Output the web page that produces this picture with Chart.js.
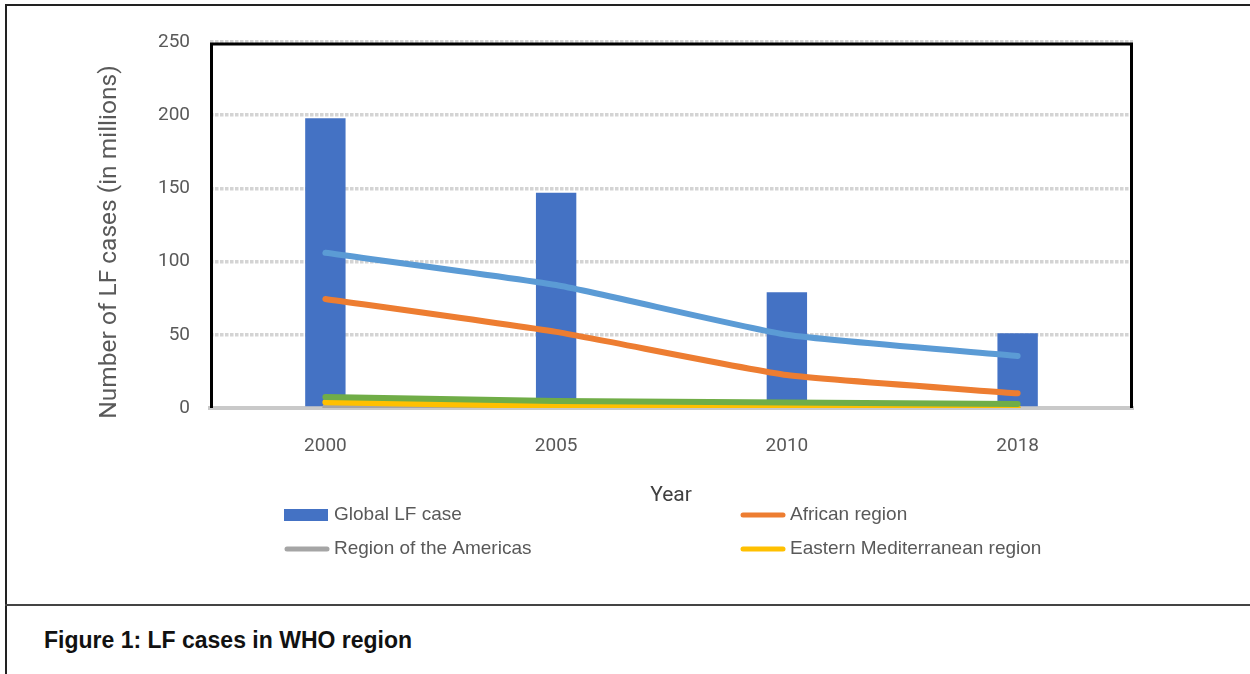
<!DOCTYPE html>
<html>
<head>
<meta charset="utf-8">
<script src="https://cdn.jsdelivr.net/npm/chart.js@4"></script>
<style>
  html, body { margin: 0; padding: 0; background: #fff; }
  #wrap { position: relative; width: 1250px; height: 674px; overflow: hidden; }
  #frameLeft { position: absolute; left: 5px; top: 4px; width: 2px; height: 670px; background: #222; }
  #frameTop { position: absolute; left: 5px; top: 4px; width: 1245px; height: 2px; background: #222; }
  #divider { position: absolute; left: 5px; top: 604px; width: 1245px; height: 2px; background: #444; }
  #caption { position: absolute; left: 44px; top: 627px; font: bold 23px "Liberation Sans", Arial, sans-serif; color: #111; }
  #chartBox { position: absolute; left: 0; top: 0; width: 1250px; height: 600px; }
</style>
</head>
<body>
<div id="wrap">
  <div id="chartBox"><canvas id="lfChart" width="1250" height="600"></canvas></div>
  <div id="frameLeft"></div>
  <div id="frameTop"></div>
  <div id="divider"></div>
  <div id="caption">Figure 1: LF cases in WHO region</div>
</div>
<script>
// data (millions of people)
const years = ["2000", "2005", "2010", "2018"];
const globalCases = [198, 147, 79, 51];
const africa = [74.5, 52, 22.5, 10];
const americas = [0.5, 0.3, 0.2, 0.1];
const eastMed = [4, 1.4, 0.7, 0.3];
const seAsia = [106, 84, 50, 35.5];
const westPacific = [7.5, 4.8, 3.8, 2.7];
const yTicks = [0, 50, 100, 150, 200, 250];

const TICK_FONT = { family: "Roboto, 'Liberation Sans', sans-serif", size: 19 };
const GREY_TXT = "#595959";

const lineDs = (label, data, color, order) => ({
  type: "line",
  label,
  data,
  borderColor: color,
  backgroundColor: color,
  borderWidth: 6,
  borderCapStyle: "round",
  borderJoinStyle: "round",
  tension: 0.15,
  pointRadius: 0,
  order,
});

// frame, axis titles and the two-column legend
const extras = {
  id: "extras",
  beforeDatasetsDraw(chart) {
    const { ctx, chartArea: a } = chart;
    ctx.save();
    ctx.strokeStyle = "#000";
    ctx.lineWidth = 3;
    ctx.beginPath();
    ctx.moveTo(a.left + 1.5, a.bottom);
    ctx.lineTo(a.left + 1.5, a.top + 2);
    ctx.lineTo(a.right - 1.5, a.top + 2);
    ctx.lineTo(a.right - 1.5, a.bottom);
    ctx.stroke();
    ctx.restore();
  },
  afterDraw(chart) {
    const { ctx } = chart;
    ctx.save();
    // y title
    ctx.fillStyle = GREY_TXT;
    ctx.font = "24.5px Roboto, 'Liberation Sans', sans-serif";
    ctx.textAlign = "center";
    ctx.textBaseline = "middle";
    ctx.translate(110, 242);
    ctx.rotate(-Math.PI / 2);
    ctx.fillText("Number of LF cases (in millions)", 0, 0);
    ctx.setTransform(1, 0, 0, 1, 0, 0);
    // x title
    ctx.fillStyle = "#404040";
    ctx.font = "21px Roboto, 'Liberation Sans', sans-serif";
    ctx.fillText("Year", 671, 496);

    // legend (only the first four series, as in the source)
    const items = chart.data.datasets.filter(d => d.inLegend);
    const cols = [284, 740];
    const rows = [515, 549];
    ctx.font = "19px 'Liberation Sans Narrow', 'Liberation Sans', sans-serif";
    ctx.textAlign = "left";
    items.forEach((d, i) => {
      const x = cols[i % 2];
      const y = rows[Math.floor(i / 2)];
      if (d.type === "bar") {
        ctx.fillStyle = d.backgroundColor;
        ctx.fillRect(x, y - 6, 44, 12);
      } else {
        ctx.strokeStyle = d.borderColor;
        ctx.lineWidth = 5;
        ctx.lineCap = "round";
        ctx.beginPath();
        ctx.moveTo(x + 3, y);
        ctx.lineTo(x + 43, y);
        ctx.stroke();
      }
      ctx.fillStyle = GREY_TXT;
      ctx.fillText(d.label, x + 50, y);
    });
    ctx.restore();
  },
};

new Chart(document.getElementById("lfChart"), {
  data: {
    labels: years,
    datasets: [
      { type: "bar", label: "Global LF case", data: globalCases, backgroundColor: "#4472c4",
        barPercentage: 0.7, categoryPercentage: 0.25, order: 10, inLegend: true },
      { ...lineDs("African region", africa, "#ed7d31", 5), inLegend: true },
      { ...lineDs("Region of the Americas", americas, "#a5a5a5", 4), inLegend: true },
      { ...lineDs("Eastern Mediterranean region", eastMed, "#ffc000", 3), inLegend: true },
      lineDs("South-East Asia region", seAsia, "#5b9bd5", 2),
      lineDs("Western Pacific region", westPacific, "#70ad47", 1),
    ],
  },
  options: {
    responsive: false,
    animation: false,
    layout: { padding: { top: 42, right: 117, left: 0, bottom: 0 } },
    plugins: { legend: { display: false }, tooltip: { enabled: false }, title: { display: false } },
    scales: {
      x: {
        grid: { display: false, drawTicks: false },
        border: { display: true, color: "#c9c9c9", width: 4 },
        ticks: { color: GREY_TXT, font: TICK_FONT, padding: 27, maxRotation: 0 },
        afterFit: s => { s.height = 192; },
      },
      y: {
        min: 0,
        max: 250,
        afterBuildTicks: s => { s.ticks = yTicks.map(v => ({ value: v })); },
        grid: { color: "#d4d4d4", lineWidth: 3.5, drawTicks: false },
        border: { display: false, dash: [3.5, 1.5] },
        ticks: { color: GREY_TXT, font: TICK_FONT, padding: 20 },
        afterFit: s => { s.width = 210; },
      },
    },
  },
  plugins: [extras],
});
</script>
</body>
</html>
